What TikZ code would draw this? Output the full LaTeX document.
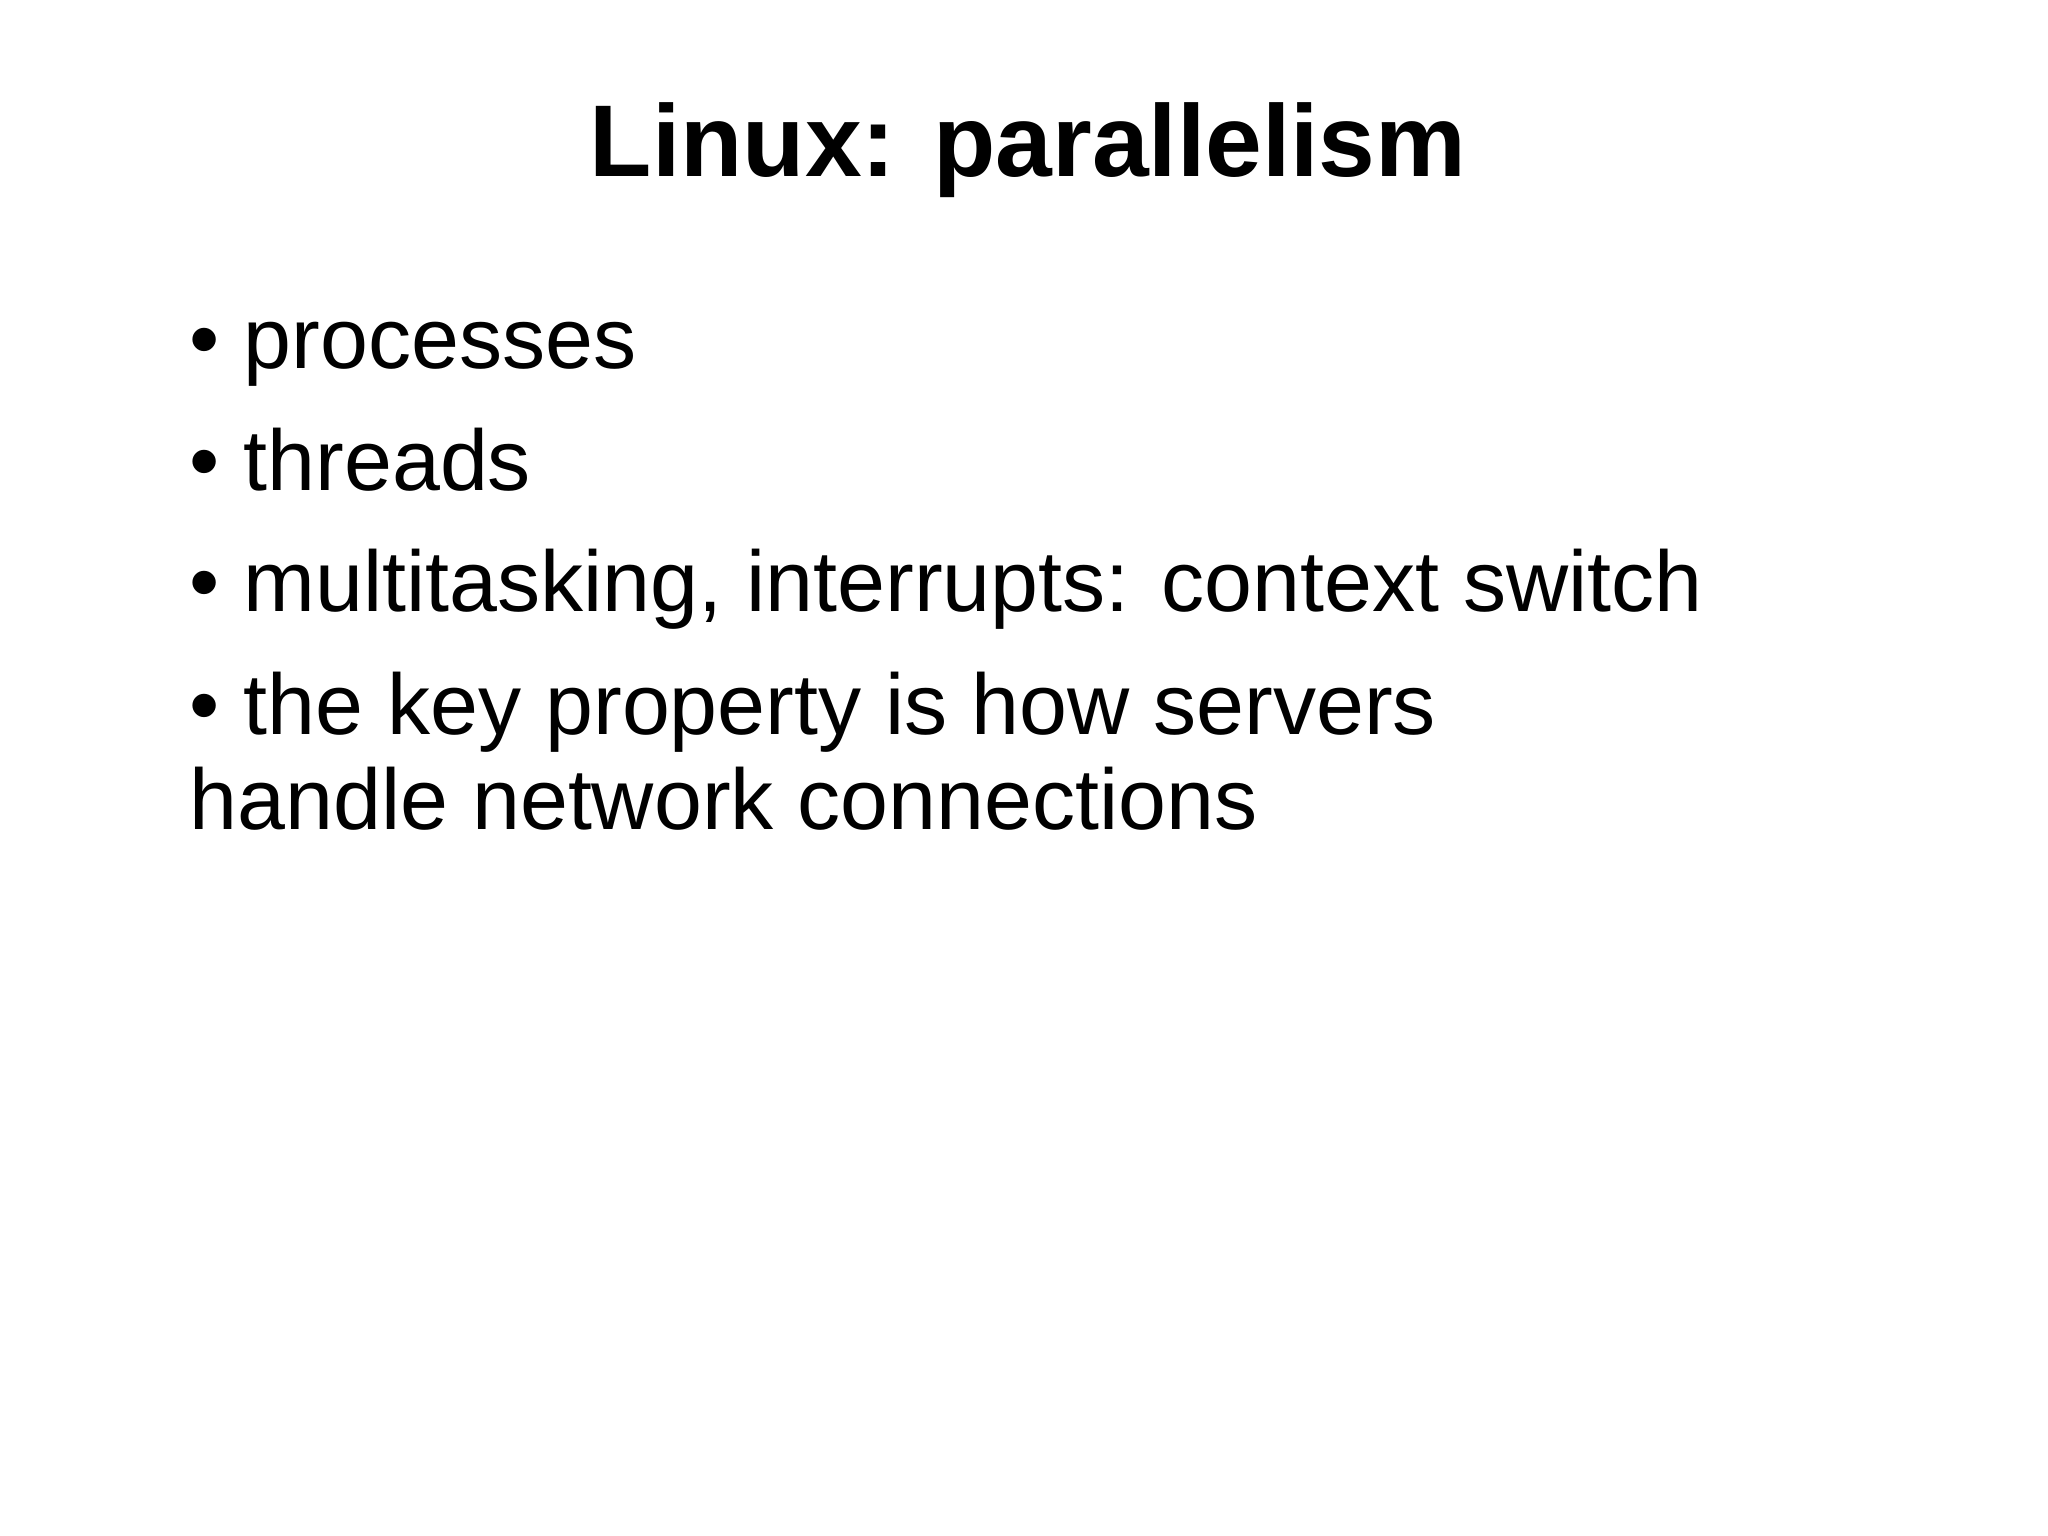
\documentclass[tikz,border=0pt]{standalone}
\usepackage{fontspec}
\setmainfont{Liberation Sans}
\begin{document}
\begin{tikzpicture}[x=0.01cm,y=-0.01cm,
  body/.style={anchor=base west,inner sep=0pt,font=\fontsize{24.5pt}{29pt}\selectfont}]
\useasboundingbox[fill=white] (0,0) rectangle (2048,1536);
\node[anchor=base,inner sep=0pt,font=\fontsize{29pt}{34pt}\selectfont\bfseries] (title) at (1028,176) {Linux: parallelism};
\node[body] (b1) at (189,368) {\textbullet\ processes};
\node[body] (b2) at (189,490) {\textbullet\ threads};
\node[body] (b3) at (189,611) {\textbullet\ multitasking, interrupts: context switch};
\node[body] (b4) at (189,734) {\textbullet\ the key property is how servers};
\node[body] (b5) at (189,829) {handle network connections};
\end{tikzpicture}
\end{document}
